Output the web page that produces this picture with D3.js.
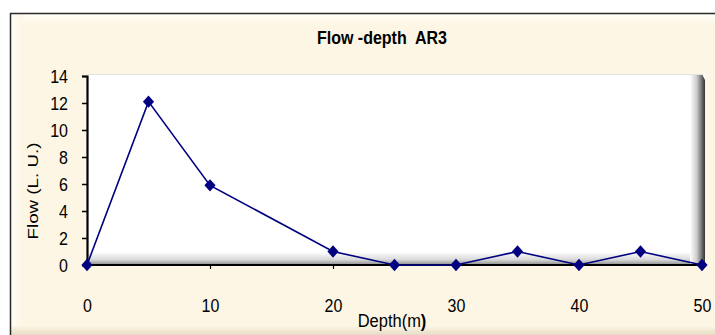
<!DOCTYPE html>
<html><head><meta charset="utf-8">
<script src="https://cdn.jsdelivr.net/npm/d3@7"></script>
<style>html,body{margin:0;padding:0;background:#fff;}svg{display:block;} text{white-space:pre;}</style>
</head><body>
<svg id="c" width="715" height="335"></svg>
<script>
const title = "Flow -depth  AR3";
const xLabel = "Depth(m";
const yLabel = "Flow (L. U.)";
const depths = [0, 5, 10, 20, 25, 30, 35, 40, 45, 50];
const flows  = [0, 12.1, 5.9, 1, 0, 0, 1, 0, 1, 0];
const xTicks = [0, 10, 20, 30, 40, 50];
const yTicks = [0, 2, 4, 6, 8, 10, 12, 14];

const svg = d3.select("#c");
const defs = svg.append("defs");
const font = "Arial, 'Liberation Sans', sans-serif";

// gradients
const gR = defs.append("linearGradient").attr("id","shR").attr("x1",0).attr("x2",1).attr("y1",0).attr("y2",0);
gR.append("stop").attr("offset","0%").attr("stop-color","#ffffff");
gR.append("stop").attr("offset","45%").attr("stop-color","#cccccc");
gR.append("stop").attr("offset","100%").attr("stop-color","#333333");
const gB = defs.append("linearGradient").attr("id","shB").attr("x1",0).attr("x2",0).attr("y1",0).attr("y2",1);
gB.append("stop").attr("offset","0%").attr("stop-color","#ffffff");
gB.append("stop").attr("offset","60%").attr("stop-color","#d8d8d8");
gB.append("stop").attr("offset","100%").attr("stop-color","#8a8a8a");
const gBot = defs.append("linearGradient").attr("id","bevB").attr("x1",0).attr("x2",0).attr("y1",0).attr("y2",1);
gBot.append("stop").attr("offset","0%").attr("stop-color","#fdf6e4");
gBot.append("stop").attr("offset","100%").attr("stop-color","#e6dcc6");
const gTop = defs.append("linearGradient").attr("id","bevT").attr("x1",0).attr("x2",0).attr("y1",0).attr("y2",1);
gTop.append("stop").attr("offset","0%").attr("stop-color","#fffdf7");
gTop.append("stop").attr("offset","100%").attr("stop-color","#fdf6e4");
const gL = defs.append("linearGradient").attr("id","bevL").attr("x1",0).attr("x2",1).attr("y1",0).attr("y2",0);
gL.append("stop").attr("offset","0%").attr("stop-color","#fffdf7");
gL.append("stop").attr("offset","100%").attr("stop-color","#fdf6e4");

// chart area background
svg.append("rect").attr("x",10).attr("y",13).attr("width",715).attr("height",330).attr("fill","#fdf6e4");
svg.append("rect").attr("x",11).attr("y",14).attr("width",715).attr("height",12).attr("fill","url(#bevT)");
svg.append("rect").attr("x",11).attr("y",14).attr("width",12).attr("height",330).attr("fill","url(#bevL)");
svg.append("rect").attr("x",11).attr("y",326).attr("width",715).attr("height",9).attr("fill","url(#bevB)");
svg.append("line").attr("x1",10).attr("x2",715).attr("y1",13.5).attr("y2",13.5).attr("stroke","#2a2a2a").attr("stroke-width",1.5);
svg.append("line").attr("x1",10.5).attr("x2",10.5).attr("y1",13).attr("y2",335).attr("stroke","#2a2a2a").attr("stroke-width",1.5);

const x = d3.scaleLinear().domain([0, 50]).range([87, 702]);
const y = d3.scaleLinear().domain([0, 14]).range([265, 76]);

// plot area
const pL = x(0), pR = 705, pT = 74, pB = y(0);
svg.append("rect").attr("x",pL).attr("y",pT).attr("width",pR-pL).attr("height",pB-pT).attr("fill","#ffffff");
svg.append("rect").attr("x",pL).attr("y",pB-13).attr("width",pR-pL-14).attr("height",13).attr("fill","url(#shB)");
svg.append("path").attr("d",`M${pR-15},${pT} L${pR-3},${pT} L${pR},${pT+6} L${pR},${pB} L${pR-15},${pB} Z`).attr("fill","url(#shR)");
svg.append("line").attr("x1",pL).attr("x2",pR-3).attr("y1",pT+0.5).attr("y2",pT+0.5).attr("stroke","#e2e2e2");

// axes
const yAxis = d3.axisLeft(y).tickValues(yTicks).tickSize(5).tickPadding(0).tickFormat(d3.format("d"));
const gy = svg.append("g").attr("transform",`translate(${pL},0)`).call(yAxis);
gy.select(".domain").attr("stroke","#000").attr("stroke-width",2.2);
gy.selectAll(".tick line").attr("stroke","#000").attr("stroke-width",1.5);
gy.selectAll(".tick text").remove();
gy.selectAll(".tick").append("text")
  .attr("transform","translate(-19,0) scale(1,1.2)")
  .attr("text-anchor","end").attr("dy","0.36em")
  .attr("font-family",font).attr("font-size",16).attr("fill","#000")
  .text(d => d);

const xAxis = d3.axisBottom(x).tickValues(xTicks).tickSize(4).tickFormat(d3.format("d"));
const gx = svg.append("g").attr("transform",`translate(0,${pB})`).call(xAxis);
gx.select(".domain").attr("d",`M${pL},0H${pR}`).attr("stroke","#000").attr("stroke-width",2.2);
gx.selectAll(".tick line").attr("stroke","#000").attr("stroke-width",1.2);
gx.selectAll(".tick text").remove();
gx.selectAll(".tick").append("text")
  .attr("transform","translate(0,47) scale(1,1.2)")
  .attr("text-anchor","middle")
  .attr("font-family",font).attr("font-size",16).attr("fill","#000")
  .text(d => d);

// line + markers
const line = d3.line().x(d => x(d[0])).y(d => y(d[1]));
const pts = depths.map((d,i) => [d, flows[i]]);
svg.append("path").datum(pts).attr("d",line).attr("fill","none").attr("stroke","#000080").attr("stroke-width",1.6);
svg.selectAll("path.mk").data(pts).enter().append("path").attr("class","mk")
  .attr("transform", d => `translate(${x(d[0])},${y(d[1])})`)
  .attr("d","M0,-6.2L5.6,0L0,6.2L-5.6,0Z").attr("fill","#000080");

// title
svg.append("text").attr("transform","translate(382,44) scale(1,1.2)")
  .attr("text-anchor","middle").attr("font-family",font).attr("font-weight","bold")
  .attr("font-size",16).attr("fill","#000").text(title);

// x label
const xl = svg.append("text").attr("transform","translate(392,327) scale(1,1.1)")
  .attr("text-anchor","middle").attr("font-family",font).attr("font-size",16.5).attr("fill","#000");
xl.append("tspan").text(xLabel);
xl.append("tspan").attr("font-weight","bold").text(")");

// y label
svg.append("text").attr("transform","translate(38,191) rotate(-90) scale(1.25,1)")
  .attr("text-anchor","middle").attr("font-family",font).attr("font-size",15).attr("fill","#000").text(yLabel);
</script>
</body></html>
